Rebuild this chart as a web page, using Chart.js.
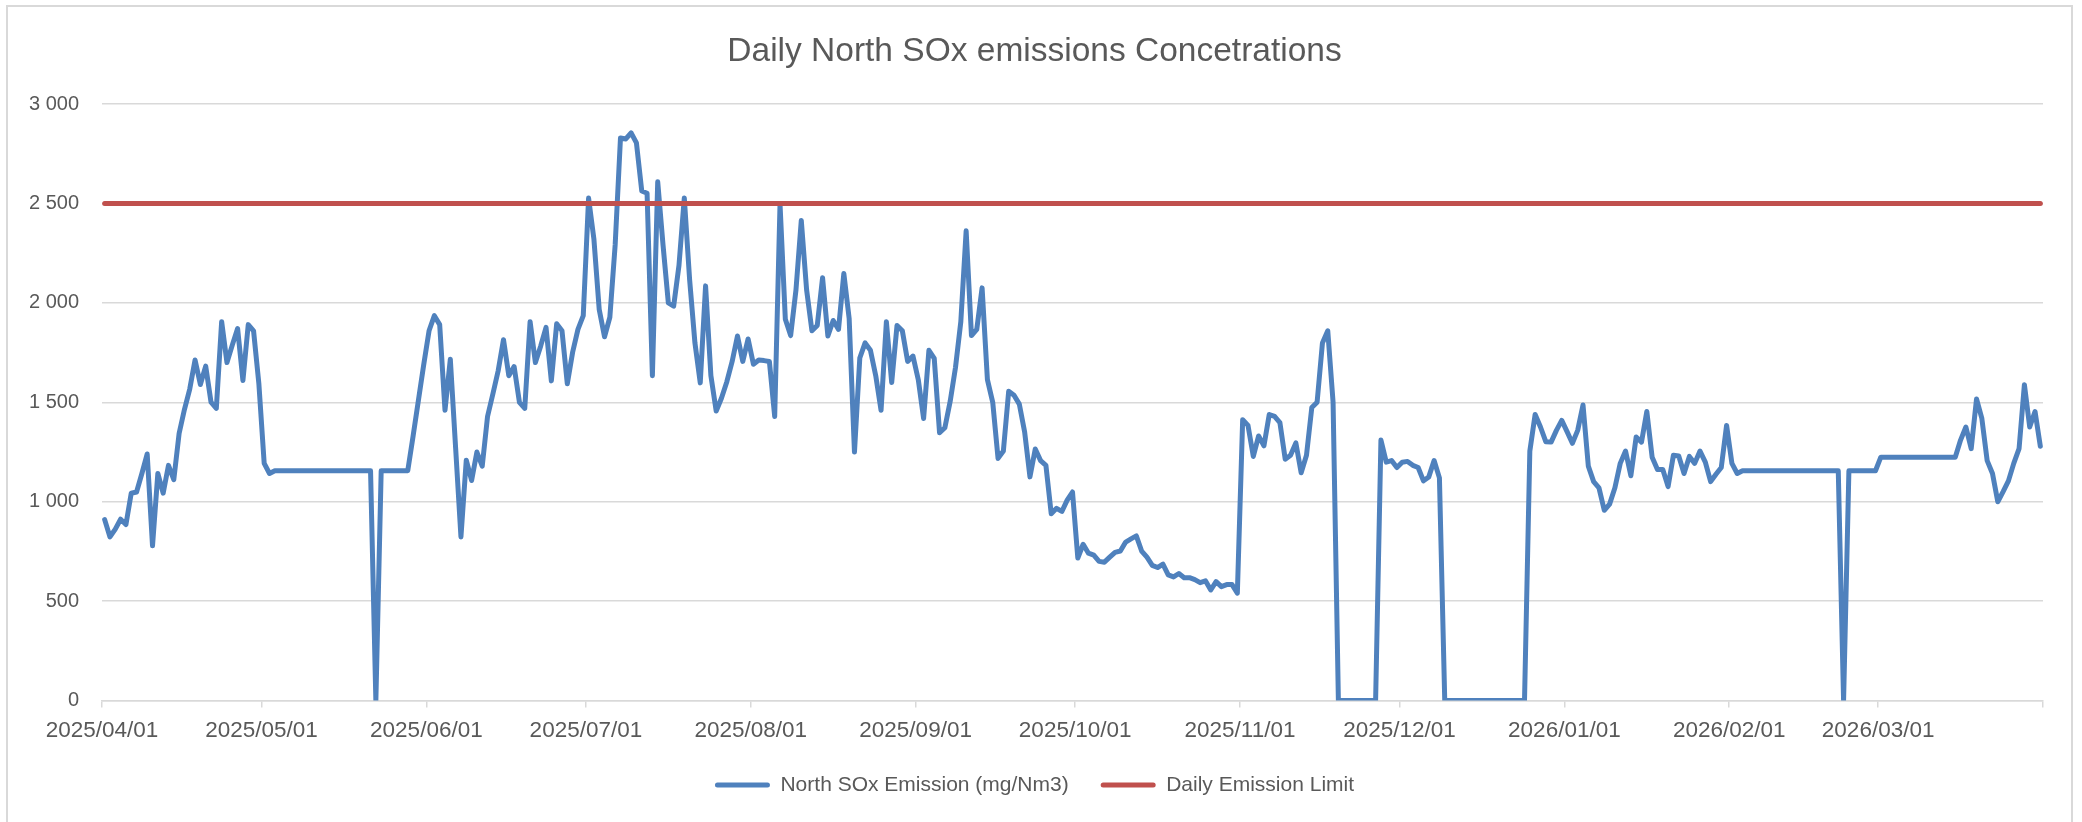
<!DOCTYPE html>
<html>
<head>
<meta charset="utf-8">
<title>Daily North SOx emissions</title>
<script src="https://cdn.jsdelivr.net/npm/chart.js@4.4.1/dist/chart.umd.min.js"></script>
<style>
  body { margin: 0; background: #ffffff; }
  canvas { display: block; }
</style>
</head>
<body>
<canvas id="sox-chart" width="2082" height="822"></canvas>
<script>
const chartTitle = 'Daily North SOx emissions Concetrations';
const seriesName = 'North SOx Emission (mg/Nm3)';
const limitName = 'Daily Emission Limit';
const emissionLimit = 2500;
const firstDay = '2025-04-01';
const dayCount = 365;

// day index (from 2025/04/01) of each month start, last one closes the axis
const monthTicks = [0, 30, 61, 91, 122, 153, 183, 214, 244, 275, 306, 334, 365];
const yTicks = [0, 500, 1000, 1500, 2000, 2500, 3000];

const apr = [910, 823, 862, 912, 885, 1043, 1049, 1142, 1240, 778,
  1142, 1043, 1183, 1111, 1343, 1464, 1567, 1713, 1590, 1682,
  1501, 1470, 1906, 1700, 1788, 1871, 1610, 1891, 1860, 1593];
const may = [1193, 1142, 1156, 1156, 1156, 1156, 1156, 1156, 1156, 1156,
  1156, 1156, 1156, 1156, 1156, 1156, 1156, 1156, 1156, 1156,
  1156, 0, 1156, 1156, 1156, 1156, 1156, 1156, 1330, 1510, 1690];
const jun = [1860, 1936, 1891, 1460, 1717, 1270, 823, 1209, 1107, 1250,
  1179, 1429, 1542, 1659, 1815, 1634, 1680, 1500, 1470, 1906,
  1700, 1784, 1877, 1608, 1895, 1860, 1593, 1752, 1867, 1936];
const jul = [2528, 2322, 1967, 1830, 1928, 2292, 2830, 2825, 2856, 2805,
  2563, 2552, 1634, 2610, 2292, 2000, 1984, 2189, 2528, 2117,
  1799, 1598, 2086, 1634, 1456, 1522, 1604, 1706, 1834, 1706, 1819];
const aug = [1692, 1713, 1710, 1706, 1429, 2497, 1918, 1836, 2066, 2415,
  2066, 1860, 1887, 2127, 1834, 1912, 1867, 2148, 1922, 1250,
  1723, 1799, 1762, 1634, 1460, 1906, 1600, 1887, 1860, 1706, 1733];
const sep = [1614, 1419, 1762, 1721, 1347, 1372, 1505, 1676, 1906, 2363,
  1836, 1867, 2076, 1614, 1500, 1218, 1255, 1556, 1536, 1491,
  1351, 1125, 1265, 1207, 1183, 940, 967, 951, 1008, 1049];
const oct = [717, 786, 741, 731, 700, 696, 721, 745, 752, 797,
  813, 828, 752, 721, 680, 669, 686, 632, 622, 639,
  618, 618, 608, 593, 602, 556, 598, 573, 583, 583, 540];
const nov = [1413, 1384, 1228, 1331, 1281, 1439, 1429, 1398, 1214, 1234,
  1296, 1146, 1234, 1474, 1501, 1799, 1860, 1501, 0, 0,
  0, 0, 0, 0, 0, 0, 1310, 1199, 1207, 1172];
const dec = [1199, 1203, 1183, 1172, 1105, 1125, 1207, 1120, 0, 0,
  0, 0, 0, 0, 0, 0, 0, 0, 0, 0,
  0, 0, 0, 0, 1255, 1439, 1376, 1302, 1300, 1359, 1409];
const jan = [1353, 1294, 1359, 1487, 1179, 1101, 1070, 957, 988, 1070,
  1193, 1255, 1131, 1326, 1300, 1454, 1224, 1162, 1162, 1076,
  1234, 1230, 1142, 1228, 1193, 1255, 1199, 1101, 1138, 1172, 1384];
const feb = [1193, 1142, 1156, 1156, 1156, 1156, 1156, 1156, 1156, 1156,
  1156, 1156, 1156, 1156, 1156, 1156, 1156, 1156, 1156, 1156,
  1156, 0, 1156, 1156, 1156, 1156, 1156, 1156];
const mar = [1224, 1224, 1224, 1224, 1224, 1224, 1224, 1224, 1224, 1224,
  1224, 1224, 1224, 1224, 1224, 1310, 1376, 1267, 1517, 1419,
  1207, 1142, 1000, 1051, 1105, 1193, 1267, 1589, 1376, 1454, 1279];

const northSox = [].concat(apr, may, jun, jul, aug, sep, oct, nov, dec, jan, feb, mar);

const pad = (n) => String(n).padStart(2, '0');
const days = [];
for (let i = 0; i < dayCount; i++) {
    const d = new Date(firstDay + 'T00:00:00Z');
    d.setUTCDate(d.getUTCDate() + i);
    days.push(`${d.getUTCFullYear()}/${pad(d.getUTCMonth() + 1)}/${pad(d.getUTCDate())}`);
}

// excel puts each day in the middle of its slot
const soxPoints = northSox.map((v, i) => ({ x: i + 0.5, y: v }));
const limitPoints = [{ x: 0.5, y: emissionLimit }, { x: dayCount - 0.5, y: emissionLimit }];

const grey = '#595959';
const gridGrey = '#d9d9d9';
const fontFamily = '"Liberation Sans", Arial, sans-serif';

const frame = {
    id: 'frame',
    beforeDraw(chart) {
        const ctx = chart.ctx;
        ctx.save();
        ctx.fillStyle = '#ffffff';
        ctx.fillRect(0, 0, chart.width, chart.height);
        ctx.strokeStyle = gridGrey;
        ctx.lineWidth = 2;
        ctx.strokeRect(7, 6, 2065, 840);
        ctx.restore();
    }
};

new Chart(document.getElementById('sox-chart'), {
    type: 'line',
    data: {
        datasets: [{
            label: seriesName,
            data: soxPoints,
            borderColor: '#4F81BD',
            backgroundColor: '#4F81BD',
            borderWidth: 5,
            borderJoinStyle: 'round',
            borderCapStyle: 'round',
            pointRadius: 0,
            tension: 0,
            order: 2
        }, {
            label: limitName,
            data: limitPoints,
            borderColor: '#C0504D',
            backgroundColor: '#C0504D',
            borderWidth: 5,
            borderCapStyle: 'round',
            pointRadius: 0,
            order: 1
        }]
    },
    options: {
        responsive: false,
        devicePixelRatio: 1,
        animation: false,
        layout: { padding: { left: 26, right: 39, top: 0, bottom: 16.5 } },
        scales: {
            x: {
                type: 'linear',
                min: 0,
                max: dayCount,
                afterBuildTicks: (axis) => { axis.ticks = monthTicks.map((v) => ({ value: v })); },
                afterFit: (axis) => { axis.height = 42; },
                ticks: {
                    autoSkip: false,
                    maxRotation: 0,
                    padding: 12.5,
                    color: grey,
                    font: { family: fontFamily, size: 22.5, lineHeight: 1 },
                    callback: (v) => days[v] || ''
                },
                grid: { drawOnChartArea: false, drawTicks: true, tickLength: 7, color: gridGrey, lineWidth: 1.5 },
                border: { display: true, color: gridGrey, width: 1.5 }
            },
            y: {
                min: 0,
                max: 3000,
                afterBuildTicks: (axis) => { axis.ticks = yTicks.map((v) => ({ value: v })); },
                afterFit: (axis) => { axis.width = 76; },
                ticks: {
                    padding: 23,
                    color: grey,
                    font: { family: fontFamily, size: 20 },
                    callback: (v) => String(v).replace(/\B(?=(\d{3})+(?!\d))/g, ' ')
                },
                grid: { drawTicks: false, color: gridGrey, lineWidth: 1.5 },
                border: { display: false }
            }
        },
        plugins: {
            title: {
                display: true,
                text: chartTitle,
                color: grey,
                font: { family: fontFamily, size: 33.5, weight: 'normal' },
                padding: { top: 32, bottom: 32 }
            },
            legend: {
                position: 'bottom',
                labels: {
                    color: grey,
                    font: { family: fontFamily, size: 21 },
                    boxWidth: 55,
                    boxHeight: 5,
                    padding: 32,
                    useBorderRadius: true,
                    borderRadius: 2.5,
                    sort: (a, b) => a.datasetIndex - b.datasetIndex,
                    generateLabels: (chart) => Chart.defaults.plugins.legend.labels.generateLabels(chart).map((item) => {
                        item.fillStyle = item.strokeStyle;
                        item.lineWidth = 0;
                        return item;
                    })
                }
            },
            tooltip: { enabled: false }
        }
    },
    plugins: [frame]
});
</script>
</body>
</html>
